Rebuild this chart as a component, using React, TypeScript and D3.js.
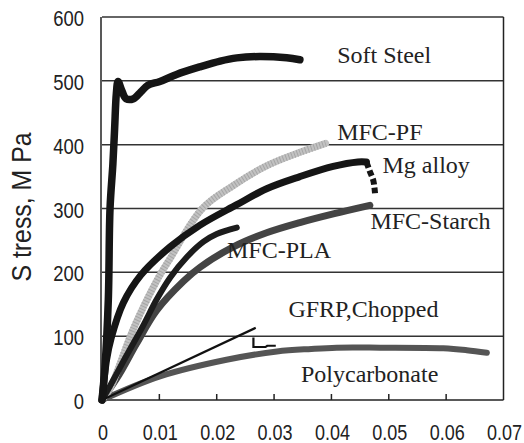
import React from 'react';
import * as d3 from 'd3';

// [strain, stress MPa]
const softSteel = [
  [0, 0], [0.0005, 50], [0.0011, 157], [0.0014, 300], [0.0019, 370], [0.0022, 425],
  [0.0025, 480], [0.0028, 499], [0.0034, 486], [0.0042, 472], [0.0055, 472], [0.0068, 483],
  [0.008, 493], [0.0101, 499], [0.013, 510], [0.0171, 522], [0.0206, 531],
  [0.0235, 536], [0.0275, 538], [0.0322, 536], [0.0345, 533],
];
const mgAlloy = [
  [0, 0], [0.0008, 63], [0.0016, 97], [0.0037, 152], [0.0068, 196], [0.0119, 240],
  [0.0171, 274], [0.0235, 306], [0.0287, 331], [0.0345, 350], [0.0403, 366],
  [0.0446, 373], [0.0461, 373],
];
const mgDrop = [[0.0461, 373], [0.0467, 358], [0.0473, 344], [0.0476, 324]];
const mfcPF = [
  [0, 0], [0.0014, 18], [0.0055, 112], [0.0095, 186], [0.0119, 222], [0.0175, 300],
  [0.0229, 336], [0.0285, 366], [0.0345, 388], [0.039, 402],
];
const mfcPLA = [
  [0, 0], [0.0014, 22], [0.0043, 70], [0.0072, 117], [0.0095, 157], [0.0119, 192],
  [0.0148, 224], [0.0177, 248], [0.02, 260], [0.0235, 270],
];
const mfcStarch = [
  [0, 0], [0.003, 40], [0.006, 88], [0.0095, 140], [0.0142, 186], [0.0171, 208],
  [0.0229, 240], [0.0287, 262], [0.0345, 278], [0.0405, 292], [0.0467, 305],
];
const gfrp = [[0, 0], [0.0268, 113]];
const gfrpDrop = [[0.0264, 98], [0.0264, 83], [0.0285, 83], [0.0288, 85], [0.0303, 85]];
const polycarb = [
  [0, 0], [0.0101, 37], [0.0217, 63], [0.0305, 76], [0.0365, 80], [0.0409, 82],
  [0.0485, 82], [0.0595, 81], [0.0636, 78], [0.0671, 74],
];

const xTicks = [0, 0.01, 0.02, 0.03, 0.04, 0.05, 0.06, 0.07];
const yTicks = [0, 100, 200, 300, 400, 500, 600];

const labels = [
  { text: 'Soft Steel', strain: 0.041, stress: 528 },
  { text: 'MFC-PF', strain: 0.041, stress: 408 },
  { text: 'Mg alloy', strain: 0.0489, stress: 356 },
  { text: 'MFC-Starch', strain: 0.0468, stress: 268 },
  { text: 'MFC-PLA', strain: 0.0218, stress: 222 },
  { text: 'GFRP,Chopped', strain: 0.0325, stress: 130 },
  { text: 'Polycarbonate', strain: 0.0347, stress: 28 },
];

const x = d3.scaleLinear().domain([0, 0.07]).range([102, 503.5]);
const y = d3.scaleLinear().domain([0, 600]).range([400, 17]);

const line = d3
  .line<number[]>()
  .x((d) => x(d[0]))
  .y((d) => y(d[1]))
  .curve(d3.curveCatmullRom.alpha(0.5));

const straight = d3
  .line<number[]>()
  .x((d) => x(d[0]))
  .y((d) => y(d[1]));

const tickFont = "'Liberation Sans', Arial, sans-serif";

const App = () => {
  return (
    <svg
      width={524}
      height={443}
      style={{ position: 'fixed', left: 0, top: 0, background: '#fff' }}
    >
      {/* grid */}
      {yTicks.slice(1).map((t) => (
        <line key={t} x1={x(0)} x2={x(0.07)} y1={y(t)} y2={y(t)} stroke="#333" strokeWidth={1.5} />
      ))}
      <line x1={x(0) - 1} x2={x(0) - 1} y1={y(600)} y2={y(0)} stroke="#222" strokeWidth={1.5} />
      <line x1={x(0.07)} x2={x(0.07)} y1={y(600)} y2={y(0)} stroke="#222" strokeWidth={1.5} />
      <line x1={x(0) - 1} x2={x(0.07)} y1={y(0)} y2={y(0)} stroke="#222" strokeWidth={1.5} />
      {xTicks.slice(1, -1).map((t) => (
        <line key={t} x1={x(t)} x2={x(t)} y1={y(0)} y2={y(0) - 6} stroke="#222" strokeWidth={1.5} />
      ))}

      {/* curves */}
      <path d={line(polycarb) || ''} fill="none" stroke="#555" strokeWidth={6} strokeLinecap="round" />
      <path d={line(mfcStarch) || ''} fill="none" stroke="#444" strokeWidth={7} strokeLinecap="round" />
      <path d={line(mfcPF) || ''} fill="none" stroke="#c2c2c2" strokeWidth={7} strokeLinecap="round" />
      <path d={line(mfcPF) || ''} fill="none" stroke="#a5a5a5" strokeWidth={7} strokeDasharray="1 2" />
      <path d={line(mfcPLA) || ''} fill="none" stroke="#1c1c1c" strokeWidth={6} strokeLinecap="round" />
      <path d={line(mgAlloy) || ''} fill="none" stroke="#151515" strokeWidth={7} strokeLinecap="round" />
      <path d={line(mgDrop) || ''} fill="none" stroke="#151515" strokeWidth={6} strokeDasharray="6 3" />
      <path d={straight(gfrp) || ''} fill="none" stroke="#111" strokeWidth={2.2} />
      <path d={straight(gfrpDrop) || ''} fill="none" stroke="#111" strokeWidth={2.2} />
      <path d={line(softSteel) || ''} fill="none" stroke="#151515" strokeWidth={7.5} strokeLinecap="round" strokeLinejoin="round" />

      {/* series labels */}
      {labels.map((l) => (
        <text
          key={l.text}
          x={x(l.strain)}
          y={y(l.stress)}
          fontFamily="'Liberation Serif', 'Times New Roman', serif"
          fontSize={24}
          fill="#222"
        >
          {l.text}
        </text>
      ))}

      {/* axis labels */}
      {yTicks.map((t) => (
        <text
          key={t}
          transform={`translate(84,${y(t) + 9}) scale(0.82,1)`}
          textAnchor="end"
          fontFamily={tickFont}
          fontSize={22.5}
          fill="#222"
        >
          {t}
        </text>
      ))}
      {xTicks.map((t) => (
        <text
          key={t}
          transform={`translate(${x(t) + 1},440) scale(0.8,1)`}
          textAnchor="middle"
          fontFamily={tickFont}
          fontSize={22.5}
          fill="#222"
        >
          {t === 0 ? '0' : d3.format('.2f')(t)}
        </text>
      ))}
      <text
        transform={`translate(31,207) rotate(-90) scale(0.92,1)`}
        textAnchor="middle"
        fontFamily={tickFont}
        fontSize={27}
        fill="#222"
      >
        S tress, M Pa
      </text>
    </svg>
  );
};

export default App;
